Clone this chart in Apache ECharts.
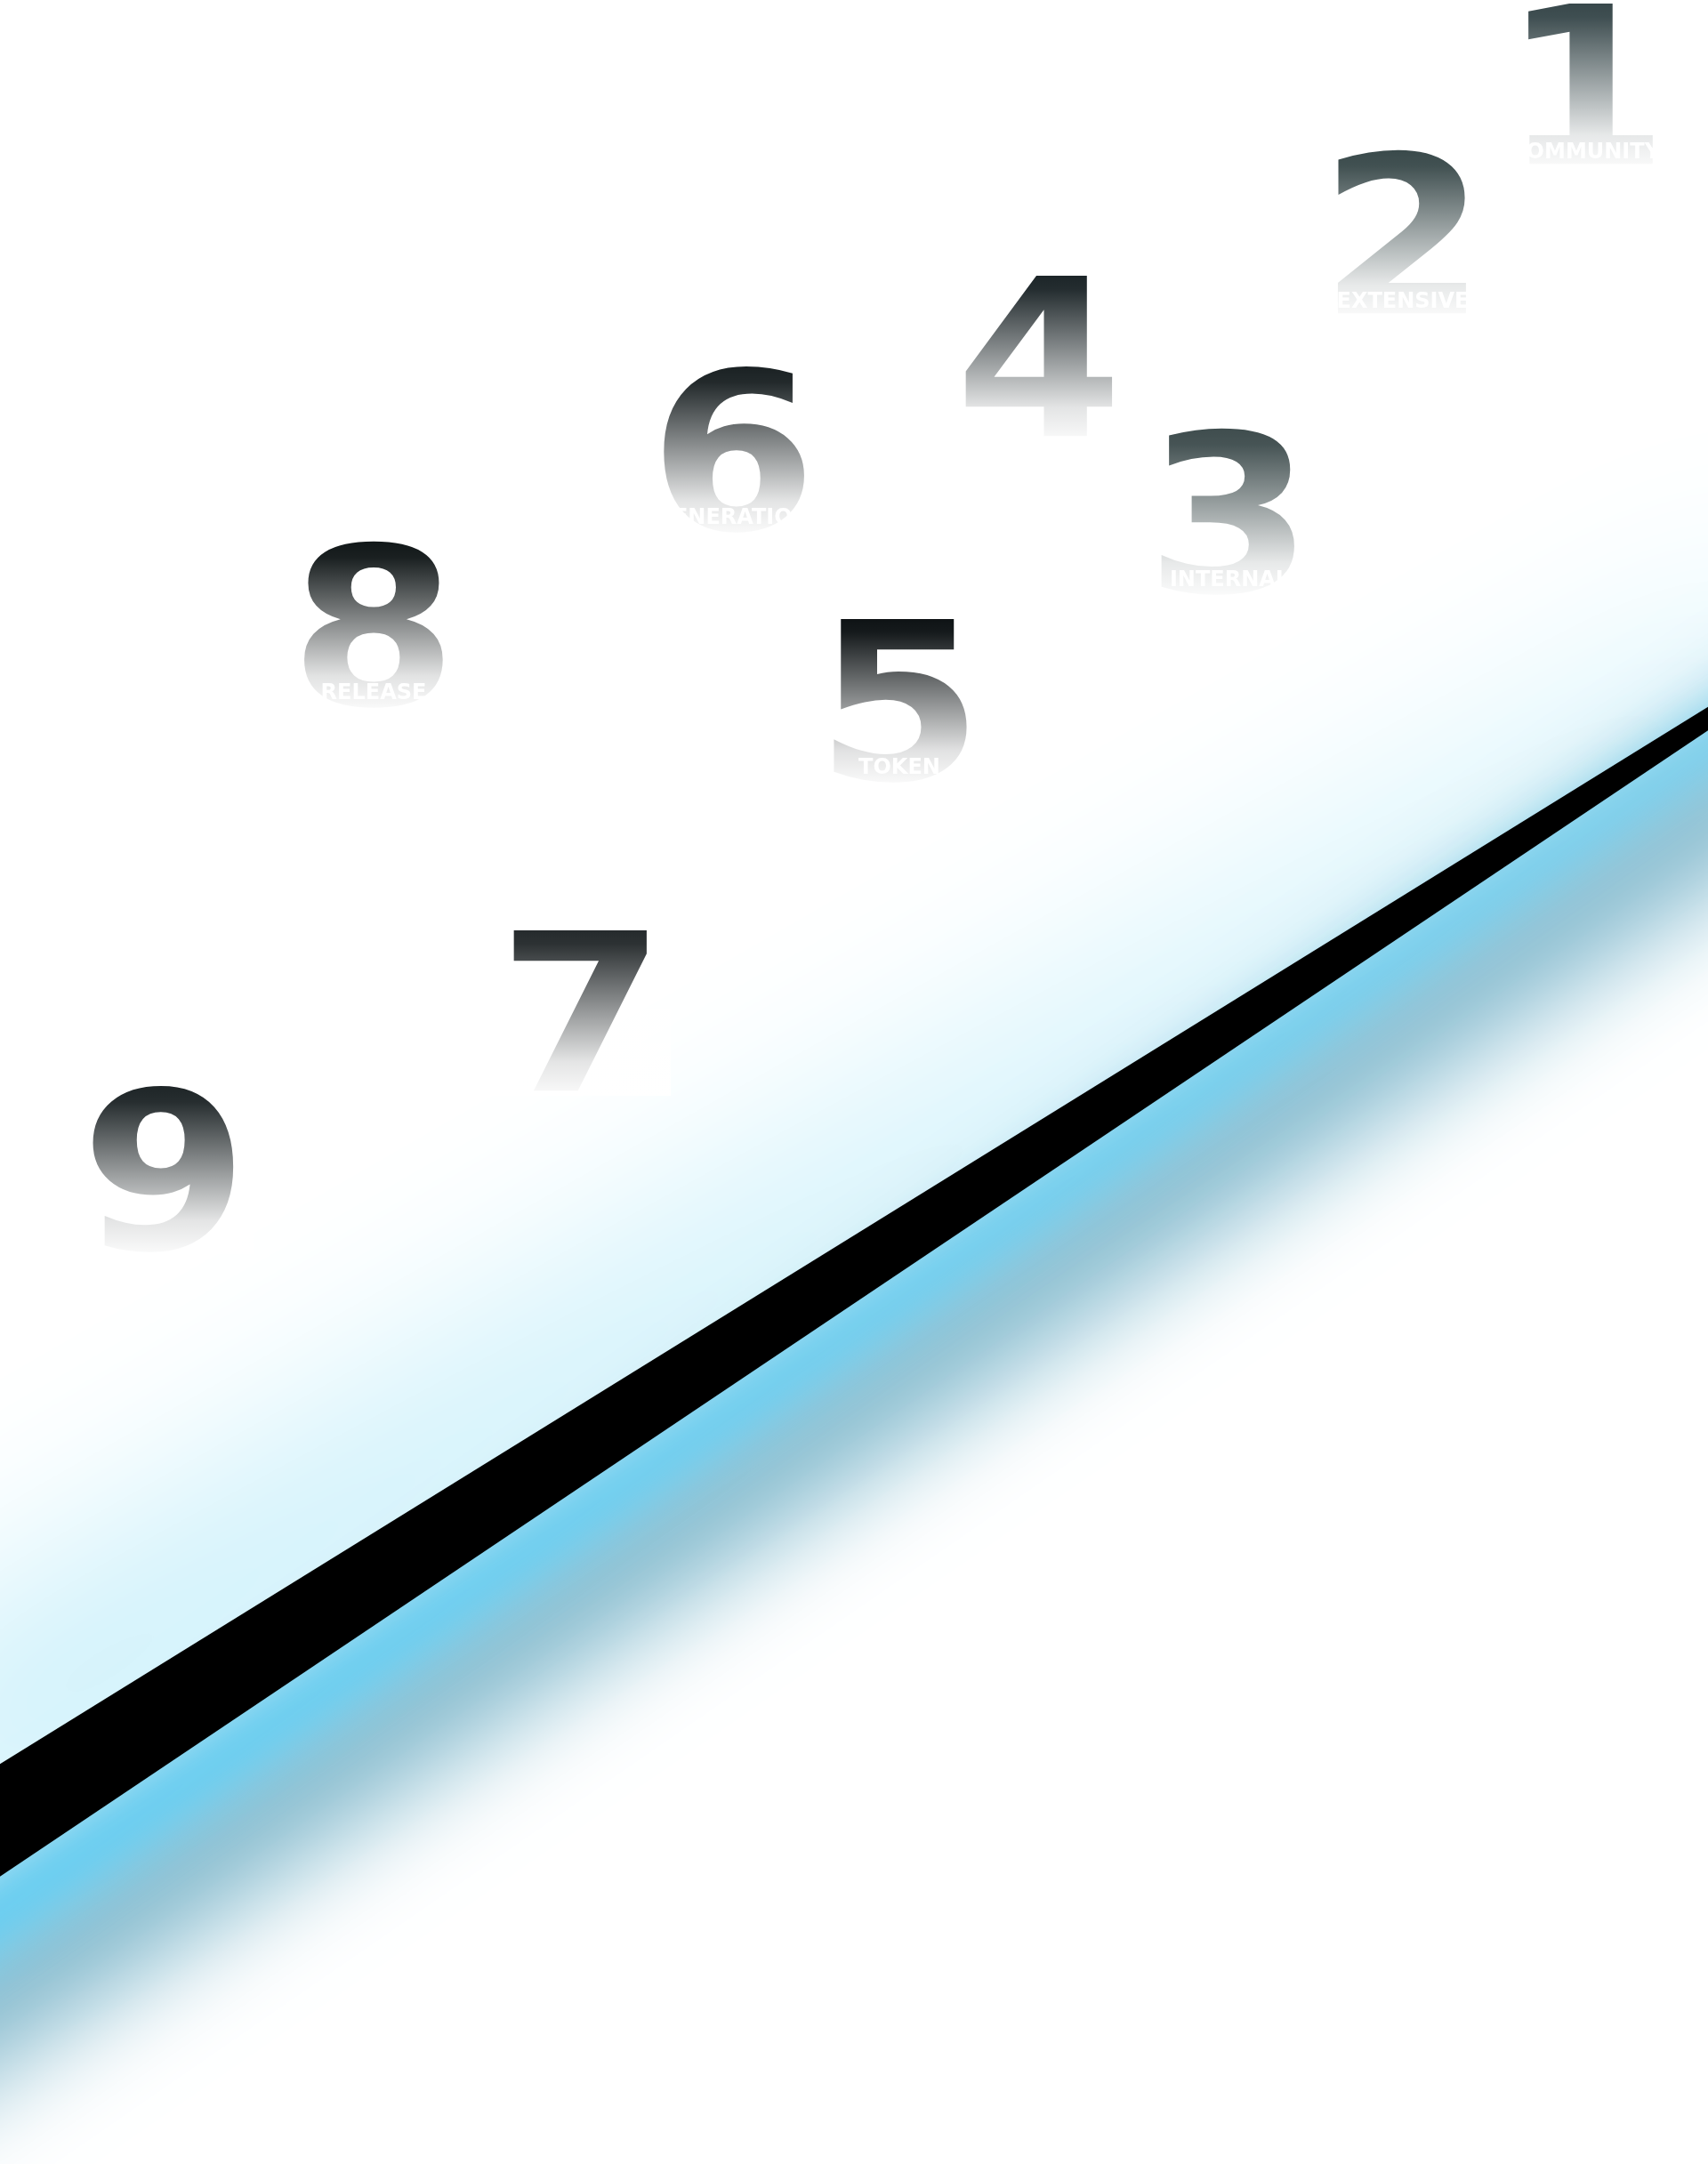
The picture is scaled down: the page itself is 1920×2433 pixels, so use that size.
<!DOCTYPE html>
<html lang="en">
<head>
<meta charset="utf-8">
<title>1 - 9</title>
<script src="https://cdn.jsdelivr.net/npm/echarts@6/dist/echarts.min.js"></script>
<style>
  html, body { margin: 0; padding: 0; background: #fff; }
  #main { width: 1920px; height: 2433px; }
</style>
</head>
<body>
<div id="main"></div>
<script>
// 数字及其位置（画面像素读数，y 向下）
const digits = ['1', '2', '3', '4', '5', '6', '7', '8', '9']
const digitX = [1782, 1577, 1382, 1168, 1011, 824, 654, 420, 185]
const digitY = [92, 260, 573, 398, 784, 503, 1134, 700, 1312]
const digitWords = ['COMMUNITY', 'EXTENSIVE', 'INTERNAL', '', 'TOKEN', 'GENERATION', '', 'RELEASE', '']

// 斜线上下两条边（两端延伸到画面外）
const lineX = [-300, 2220]
const lineTop = [2169, 609]
const lineBottom = [2311, 620]

// 每个数字顶部的颜色
const tints = ['#37474a', '#3a4a4b', '#3f4d4e', '#1b2427', '#0c1113', '#1a2123', '#24292b', '#111718', '#1e2527']

const SHIFT = 6000
const GLYPH_DY = 28 // 字形居中修正

// 只画模糊阴影：形状移到画面外，阴影偏移回来
function blurBand(pts, color, blur) {
  return {
    type: 'polygon',
    silent: true,
    shape: { points: pts.map((p) => [p[0], p[1] + SHIFT]) },
    style: {
      fill: color,
      shadowColor: color,
      shadowBlur: blur,
      shadowOffsetX: 0,
      shadowOffsetY: -SHIFT,
    },
  }
}

// 沿边缘按像素平移（左端 offL，右端 offR）
function edge(pts, offL, offR) {
  return pts.map((p, i) => [p[0], p[1] + (i === 0 ? offL : offR)])
}

function poly(a, b) {
  return a.concat(b.slice().reverse())
}

function renderLine(params, api) {
  if (params.dataIndex !== 0) return
  const top = lineX.map((x, i) => api.coord([x, lineTop[i]]))
  const bottom = lineX.map((x, i) => api.coord([x, lineBottom[i]]))
  return {
    type: 'group',
    children: [
      // 上方浅青色雾
      blurBand(poly(edge(top, -150, -40), edge(top, 60, 30)), '#b0e8f8', 240),
      // 下方偏灰的蓝色光晕
      blurBand(poly(edge(bottom, 40, 10), edge(bottom, 215, 165)), '#7ab3c8', 120),
      // 紧贴下沿的亮青色
      blurBand(poly(edge(bottom, -10, -10), edge(bottom, 90, 35)), '#5fcdf3', 60),
      { type: 'polygon', silent: true, shape: { points: poly(top, bottom) }, style: { fill: '#000' } },
    ],
  }
}

// 数字渐隐：白色透明度自上而下增加
const fade = new echarts.graphic.LinearGradient(0, 0, 0, 1, [
  { offset: 0, color: 'rgba(255,255,255,0)' },
  { offset: 0.1, color: 'rgba(255,255,255,0.04)' },
  { offset: 0.5, color: 'rgba(255,255,255,0.52)' },
  { offset: 0.8, color: 'rgba(255,255,255,0.88)' },
  { offset: 1, color: 'rgba(255,255,255,0.98)' },
])

function renderDigit(params, api) {
  const i = params.dataIndex
  const p = api.coord([api.value(0), api.value(1)])
  return {
    type: 'group',
    children: [
      {
        type: 'text',
        silent: true,
        x: p[0],
        y: p[1] + GLYPH_DY,
        scaleX: 1.1,
        style: {
          text: digits[i],
          fill: tints[i],
          font: 'bold 247px "DejaVu Sans"',
          align: 'center',
          verticalAlign: 'middle',
          textAlign: 'center',
          textVerticalAlign: 'middle',
        },
      },
      {
        type: 'rect',
        silent: true,
        shape: { x: p[0] - 100, y: p[1] - 92, width: 200, height: 190 },
        style: { fill: fade },
      },
      {
        type: 'text',
        silent: true,
        x: p[0],
        y: p[1] + 80,
        style: {
          text: digitWords[i],
          fill: '#fff',
          font: 'bold 24px "DejaVu Sans"',
          align: 'center',
          verticalAlign: 'middle',
          textAlign: 'center',
          textVerticalAlign: 'middle',
        },
      },
    ],
  }
}

const option = {
  backgroundColor: '#fff',
  animation: false,
  grid: { left: 0, right: 0, top: 0, bottom: 0 },
  xAxis: { type: 'value', min: 0, max: 1920, show: false },
  yAxis: { type: 'value', min: 0, max: 2433, inverse: true, show: false },
  series: [
    {
      name: 'line',
      type: 'custom',
      z: 1,
      silent: true,
      renderItem: renderLine,
      data: lineX.map((x, i) => [x, lineTop[i], lineBottom[i]]),
    },
    {
      name: 'digits',
      type: 'custom',
      z: 3,
      silent: true,
      renderItem: renderDigit,
      data: digits.map((d, i) => [digitX[i], digitY[i]]),
    },
  ],
}
echarts.init(document.querySelector('#main')).setOption(option)
</script>
</body>
</html>
